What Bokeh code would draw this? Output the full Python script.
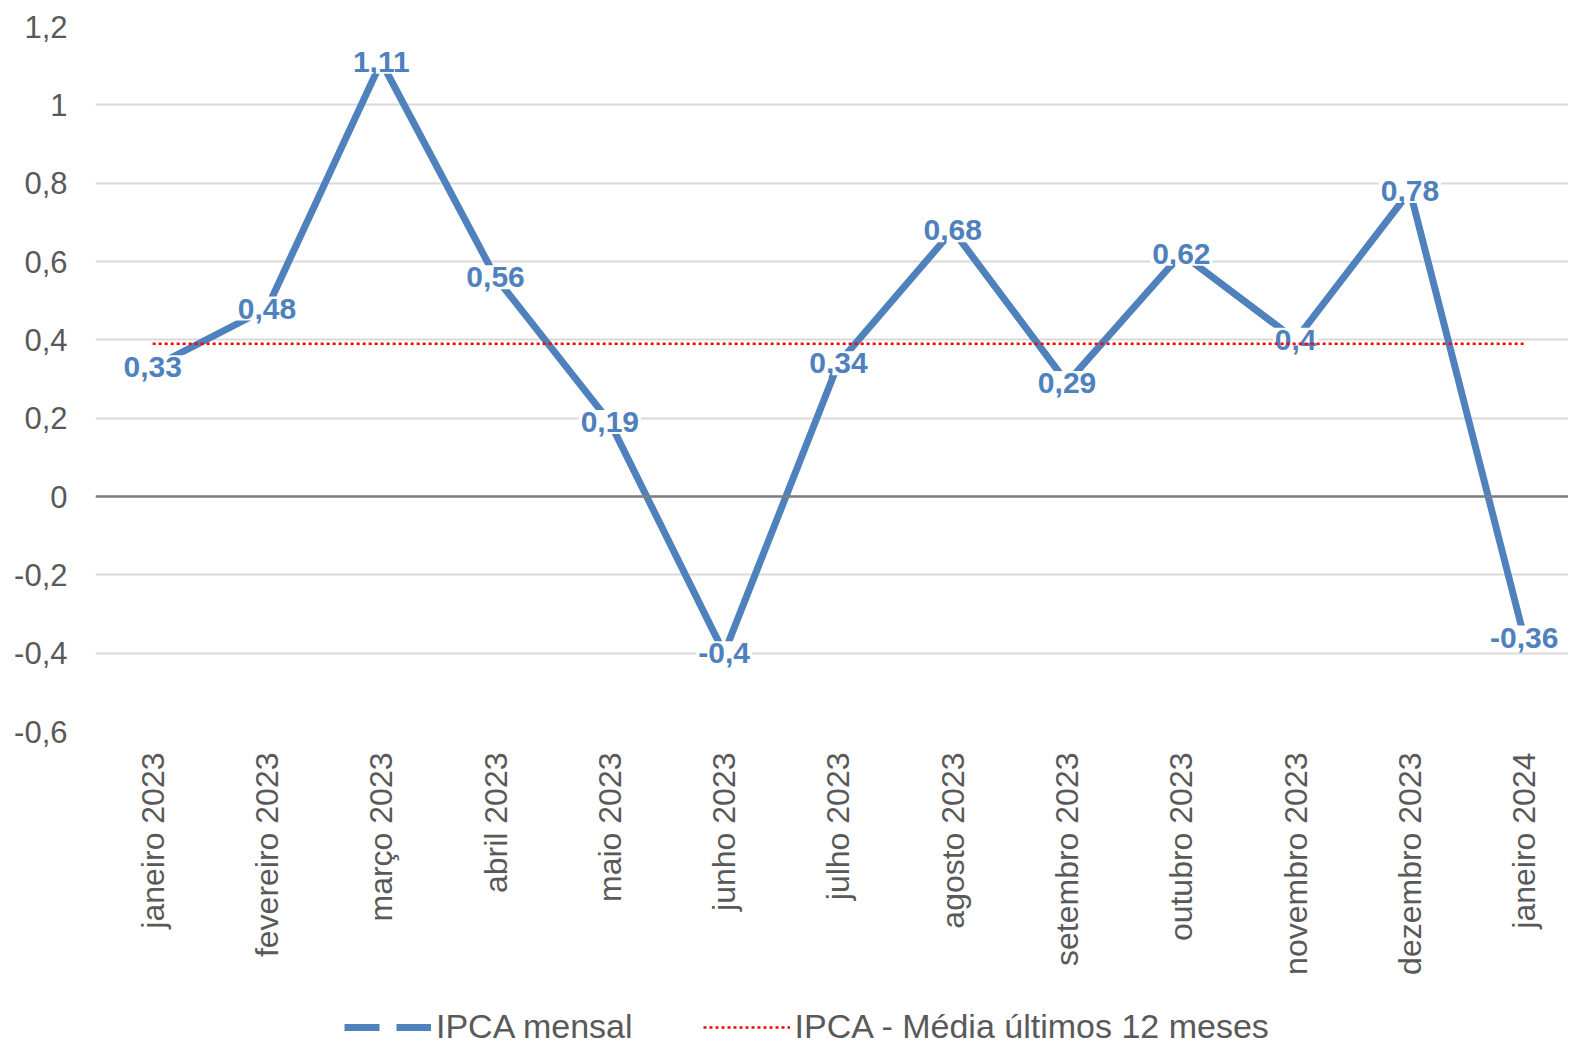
from bokeh.plotting import figure
from bokeh.models import (Range1d, FixedTicker, CustomJSTickFormatter, Span, Legend,
                          LegendItem, ColumnDataSource)
from bokeh.layouts import column
from bokeh.embed import file_html
from bokeh.resources import INLINE
from bokeh.core.properties import value
import math

meses = ["janeiro 2023", "fevereiro 2023", "março 2023", "abril 2023", "maio 2023",
         "junho 2023", "julho 2023", "agosto 2023", "setembro 2023", "outubro 2023",
         "novembro 2023", "dezembro 2023", "janeiro 2024"]
ipca_mensal = [0.33, 0.48, 1.11, 0.56, 0.19, -0.4, 0.34, 0.68, 0.29, 0.62, 0.4, 0.78, -0.36]
media_12m = [0.39, 0.39, 0.39, 0.39, 0.39, 0.39, 0.39, 0.39, 0.39, 0.39, 0.39, 0.39, 0.39]
y_ticks = [-0.6, -0.4, -0.2, 0.0, 0.2, 0.4, 0.6, 0.8, 1.0, 1.2]
serie_nomes = ["IPCA mensal", "IPCA - Média últimos 12 meses"]

BLUE = "#4f81bd"
GREY = "#595959"
FONT = "Liberation Sans"

xs = list(range(len(meses)))
src = ColumnDataSource(dict(
    x=xs, y=ipca_mensal, media=media_12m,
    lab=[("%g" % v).replace(".", ",") for v in ipca_mensal],
))

p = figure(frame_width=1473, frame_height=705, output_backend="svg", toolbar_location=None,
           x_range=Range1d(-0.5, 12.387), y_range=Range1d(-0.6, 1.2),
           min_border_left=95, min_border_right=0, min_border_top=26,
           min_border_bottom=259)
p.outline_line_color = None
p.background_fill_color = "white"
p.border_fill_color = "white"

# grid
p.xgrid.grid_line_color = None
p.ygrid.ticker = FixedTicker(ticks=y_ticks)
p.ygrid.grid_line_color = "#d9d9d9"
p.ygrid.grid_line_width = 2

# y axis
p.yaxis.ticker = FixedTicker(ticks=y_ticks)
p.yaxis.formatter = CustomJSTickFormatter(
    code="return (Math.round(tick*10)/10).toString().replace('.', ',');")
p.yaxis.axis_line_color = None
p.yaxis.major_tick_line_color = None
p.yaxis.minor_tick_line_color = None
p.yaxis.major_label_text_font = FONT
p.yaxis.major_label_text_font_size = "31px"
p.yaxis.major_label_text_color = GREY
p.yaxis.major_label_standoff = 22

# x axis
p.xaxis.ticker = FixedTicker(ticks=xs)
p.xaxis.major_label_overrides = {i: m for i, m in zip(xs, meses)}
p.xaxis.axis_line_color = None
p.xaxis.major_tick_line_color = None
p.xaxis.minor_tick_line_color = None
p.xaxis.major_label_orientation = math.pi / 2
p.xaxis.major_label_text_font = FONT
p.xaxis.major_label_text_font_size = "32px"
p.xaxis.major_label_text_color = GREY
p.xaxis.major_label_standoff = 15

# zero line
p.add_layout(Span(location=0, dimension="width", line_color="#7f7f7f", line_width=2.5))

# main series
p.line("x", "y", source=src, line_color=BLUE, line_width=7, line_join="round")

# data labels
p.text("x", "y", text="lab", source=src, text_font=value(FONT), text_font_style="bold",
       text_font_size="30px", text_color=BLUE, text_align="center",
       text_baseline="middle", background_fill_color="white", padding=2)

# average line
p.line("x", "media", source=src, line_color="red", line_width=2.5, line_dash="3 3")

# ---- legend strip (separate small figure below the chart) ----
lf = figure(width=1568, height=56, output_backend="svg", toolbar_location=None,
            x_range=Range1d(0, 1), y_range=Range1d(0, 1),
            min_border=0, x_axis_type=None, y_axis_type=None)
lf.outline_line_color = None
lf.xgrid.visible = False
lf.ygrid.visible = False
d1 = lf.line([-5, -4], [0, 0], line_color=BLUE, line_width=7, line_dash="35 17")
d2 = lf.line([-5, -4], [0, 0], line_color="red", line_width=2.5, line_dash="3 3")
legend = Legend(items=[LegendItem(label=serie_nomes[0], renderers=[d1]),
                       LegendItem(label=serie_nomes[1], renderers=[d2])],
                orientation="horizontal", location=(249, 0),
                label_text_font=FONT, label_text_font_size="34px",
                label_text_color=GREY, glyph_width=87, glyph_height=20,
                label_standoff=5, spacing=70, padding=0, margin=0,
                border_line_color=None, background_fill_alpha=0)
lf.add_layout(legend, "center")

layout = column(p, lf, spacing=0)
open("out.html", "w").write(file_html(layout, INLINE))
